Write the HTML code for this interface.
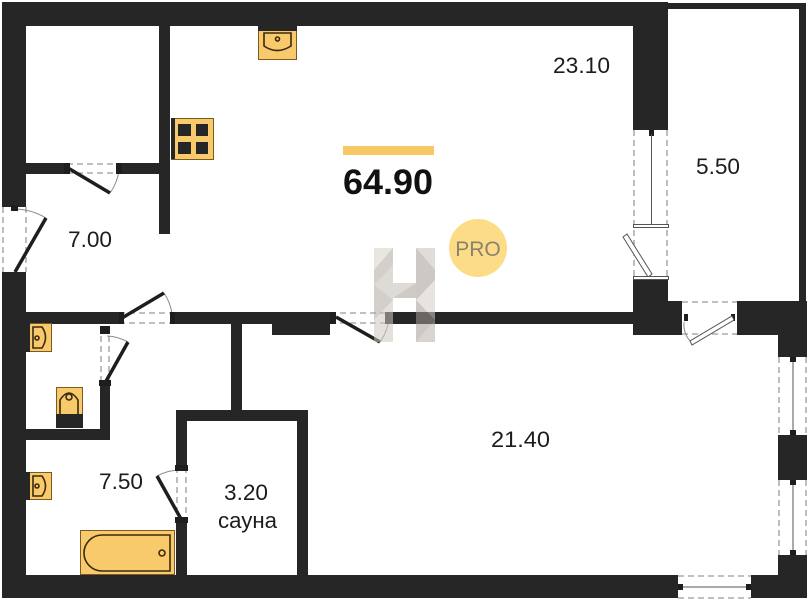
<!DOCTYPE html>
<html>
<head>
<meta charset="utf-8">
<style>
html,body{margin:0;padding:0;background:#fff;}
svg{display:block;}
text{font-family:"Liberation Sans",sans-serif;fill:#1c1c1c;}
</style>
</head>
<body>
<svg width="809" height="600" viewBox="0 0 809 600" xmlns="http://www.w3.org/2000/svg">
<rect width="809" height="600" fill="#fff"/>

<!-- WALLS -->
<g fill="#262626">
  <rect x="2" y="2" width="666" height="24"/>
  <rect x="633" y="2" width="35" height="128"/>
  <rect x="668" y="3" width="138" height="6"/>
  <rect x="799" y="3" width="7" height="300"/>
  <rect x="2" y="2" width="24" height="205"/>
  <rect x="2" y="272" width="24" height="326"/>
  <rect x="26" y="163" width="41" height="11"/>
  <rect x="119" y="163" width="51" height="11"/>
  <rect x="159" y="26" width="11" height="208"/>
  <rect x="26" y="312" width="93" height="12"/>
  <rect x="173" y="312" width="160" height="12"/>
  <rect x="272" y="323" width="58" height="12"/>
  <rect x="390" y="312" width="243" height="12"/>
  <rect x="633" y="280" width="35" height="55"/>
  <rect x="633" y="301" width="49" height="34"/>
  <rect x="737" y="301" width="70" height="34"/>
  <rect x="778" y="301" width="29" height="56"/>
  <rect x="778" y="435" width="29" height="45"/>
  <rect x="778" y="555" width="29" height="43"/>
  <rect x="2" y="575" width="676" height="23"/>
  <rect x="751" y="575" width="56" height="23"/>
  <rect x="100" y="383" width="10" height="57"/>
  <rect x="26" y="429" width="84" height="11"/>
  <rect x="231" y="324" width="11" height="97"/>
  <rect x="176" y="410" width="132" height="11"/>
  <rect x="176" y="421" width="11" height="46"/>
  <rect x="176" y="520" width="11" height="55"/>
  <rect x="297" y="421" width="11" height="154"/>
</g>

<!-- DOORS / WINDOWS dashed outlines -->
<g stroke="#9a9a9a" stroke-width="1.3" stroke-dasharray="6 4" fill="none">
  <line x1="3" y1="207" x2="3" y2="272"/>
  <line x1="26" y1="207" x2="26" y2="272"/>
  <line x1="67" y1="164" x2="119" y2="164"/>
  <line x1="67" y1="173" x2="119" y2="173"/>
  <line x1="119" y1="313" x2="173" y2="313"/>
  <line x1="119" y1="323" x2="173" y2="323"/>
  <line x1="330" y1="313" x2="390" y2="313"/>
  <line x1="330" y1="323" x2="390" y2="323"/>
  <line x1="101" y1="326" x2="101" y2="383"/>
  <line x1="109" y1="326" x2="109" y2="383"/>
  <line x1="177" y1="467" x2="177" y2="520"/>
  <line x1="186" y1="467" x2="186" y2="520"/>
  <line x1="634" y1="130" x2="634" y2="280"/>
  <line x1="667" y1="130" x2="667" y2="280"/>
  <line x1="682" y1="302" x2="737" y2="302"/>
  <line x1="682" y1="334" x2="737" y2="334"/>
  <line x1="779" y1="357" x2="779" y2="435"/>
  <line x1="806" y1="357" x2="806" y2="435"/>
  <line x1="779" y1="480" x2="779" y2="555"/>
  <line x1="806" y1="480" x2="806" y2="555"/>
  <line x1="678" y1="576" x2="751" y2="576"/>
  <line x1="678" y1="598" x2="751" y2="598"/>
</g>

<!-- door arcs -->
<g stroke="#8a8a8a" stroke-width="1" fill="none">
  <path d="M46 218 A63 63 0 0 0 14 209"/>
  <path d="M110 193 A49 49 0 0 0 119 170"/>
  <path d="M164 293 A49 49 0 0 1 172 314"/>
  <path d="M380 342 A50 50 0 0 0 389 318"/>
  <path d="M128 342 A47 47 0 0 0 107 336"/>
  <path d="M157 476 A49 49 0 0 1 181 470"/>
  <path d="M692 343 A25 25 0 0 1 684 322"/>
</g>

<!-- door leaves -->
<g stroke="#1e1e1e" stroke-width="3.5" stroke-linecap="butt">
  <line x1="15" y1="272" x2="46" y2="218"/>
  <line x1="68" y1="168" x2="110" y2="193"/>
  <line x1="122" y1="318" x2="164" y2="293"/>
  <line x1="336" y1="317" x2="380" y2="342"/>
  <line x1="105" y1="383" x2="128" y2="342"/>
  <line x1="181" y1="519" x2="157" y2="476"/>
</g>

<!-- jamb nubs -->
<g fill="#1e1e1e">
  <rect x="11" y="205" width="7" height="6"/>
  <rect x="64" y="163" width="6" height="11"/>
  <rect x="116" y="163" width="6" height="11"/>
  <rect x="119" y="312" width="5" height="12"/>
  <rect x="170" y="312" width="5" height="12"/>
  <rect x="330" y="312" width="6" height="12"/>
  <rect x="385" y="312" width="5" height="12"/>
  <rect x="100" y="326" width="10" height="8"/>
  <rect x="99" y="380" width="12" height="6"/>
  <rect x="175" y="465" width="13" height="6"/>
  <rect x="175" y="517" width="13" height="6"/>
  <rect x="649" y="130" width="5" height="6"/>
  <rect x="684" y="314" width="4" height="7"/>
  <rect x="731" y="314" width="4" height="7"/>
  <rect x="790" y="357" width="6" height="5"/>
  <rect x="790" y="430" width="6" height="5"/>
  <rect x="790" y="480" width="6" height="5"/>
  <rect x="790" y="550" width="6" height="5"/>
  <rect x="678" y="584" width="5" height="6"/>
  <rect x="746" y="584" width="5" height="6"/>
</g>

<!-- balcony door details / window center lines -->
<g stroke="#555" stroke-width="1" fill="#fff">
  <line x1="651.5" y1="134" x2="651.5" y2="224"/>
  <rect x="633.5" y="224.5" width="35" height="3"/>
  <polygon points="623,237 627,234 652,274 648,277"/>
  <rect x="633.5" y="276.5" width="35" height="3"/>
  <polygon points="690,341 692,345 734,320 732,316"/>
  <line x1="793" y1="362" x2="793" y2="430"/>
  <line x1="793" y1="485" x2="793" y2="550"/>
  <line x1="683" y1="587" x2="746" y2="587"/>
</g>

<!-- FIXTURES -->
<g stroke="#7a5a20" stroke-width="1" fill="#F8CA6C">
  <!-- kitchen sink -->
  <rect x="258.5" y="26.5" width="38" height="33"/>
  <!-- stove -->
  <rect x="171.5" y="118.5" width="42" height="41"/>
  <!-- wc sink -->
  <rect x="29.5" y="323.5" width="22" height="28"/>
  <!-- toilet -->
  <rect x="56.5" y="387.5" width="26" height="40"/>
  <!-- bath sink -->
  <rect x="29.5" y="472.5" width="22" height="27"/>
  <!-- bathtub -->
  <rect x="80.5" y="530.5" width="94" height="44"/>
</g>
<g fill="#262626">
  <rect x="258" y="26" width="39" height="5"/>
  <rect x="171" y="118" width="4" height="41"/>
  <rect x="178" y="124" width="13" height="12"/>
  <rect x="196" y="124" width="12" height="12"/>
  <rect x="178" y="142" width="13" height="12"/>
  <rect x="196" y="142" width="12" height="12"/>
  <rect x="26" y="323" width="4" height="29"/>
  <rect x="26" y="472" width="4" height="28"/>
  <rect x="56" y="414" width="27" height="14"/>
</g>
<g stroke="#3a2a10" stroke-width="1.6" fill="none">
  <path d="M264 33 H291 V46 Q277 55 264 46 Z"/>
  <circle cx="277.5" cy="39" r="2"/>
  <path d="M33 327 H42 Q49 337 42 348 H33 Z"/>
  <circle cx="37" cy="338" r="2"/>
  <path d="M33 476 H42 Q49 486 42 496 H33 Z"/>
  <circle cx="37" cy="486" r="2"/>
  <path d="M60 414 V400 Q69 386 78 400 V414"/>
  <circle cx="69" cy="397" r="3"/>
  <path d="M102 535 H170 V571 H102 A18 18 0 0 1 102 535 Z"/>
  <circle cx="162" cy="553" r="3"/>
</g>

<!-- area bar & total -->
<rect x="343" y="146" width="91" height="9" fill="#F7C864"/>
<text x="343" y="194" font-size="35" font-weight="bold" textLength="90" lengthAdjust="spacingAndGlyphs" style="fill:#111">64.90</text>

<!-- H watermark -->
<g opacity="0.55">
  <rect x="374" y="248" width="19" height="94" fill="#b0a8a0"/>
  <polygon points="374,248 393,248 374,270" fill="#d8d2cc"/>
  <polygon points="374,285 393,265 393,300" fill="#c4bdb6"/>
  <polygon points="374,320 393,300 393,342 374,342" fill="#cfc9c3"/>
  <rect x="416" y="248" width="19" height="94" fill="#a59c93"/>
  <polygon points="416,248 435,270 435,248" fill="#c8c1ba"/>
  <polygon points="416,300 435,280 435,320" fill="#d4cec8"/>
  <polygon points="416,342 435,320 435,342" fill="#bab2aa"/>
  <rect x="393" y="283" width="23" height="15" fill="#a8a098"/>
  <polygon points="393,283 416,283 393,298" fill="#c6bfb8"/>
</g>

<!-- PRO badge -->
<circle cx="478" cy="248" r="29" fill="#FCDC86"/>
<text x="478" y="256" font-size="21" text-anchor="middle" style="fill:#8a8270">PRO</text>

<!-- room labels -->
<g font-size="22">
  <text x="553" y="73" textLength="57" lengthAdjust="spacingAndGlyphs">23.10</text>
  <text x="696" y="174" textLength="44" lengthAdjust="spacingAndGlyphs">5.50</text>
  <text x="68" y="247" textLength="44" lengthAdjust="spacingAndGlyphs">7.00</text>
  <text x="491" y="447" textLength="59" lengthAdjust="spacingAndGlyphs">21.40</text>
  <text x="99" y="489" textLength="44" lengthAdjust="spacingAndGlyphs">7.50</text>
  <text x="224" y="500" textLength="44" lengthAdjust="spacingAndGlyphs">3.20</text>
  <text x="218" y="528" textLength="59" lengthAdjust="spacingAndGlyphs">сауна</text>
</g>
</svg>
</body>
</html>
